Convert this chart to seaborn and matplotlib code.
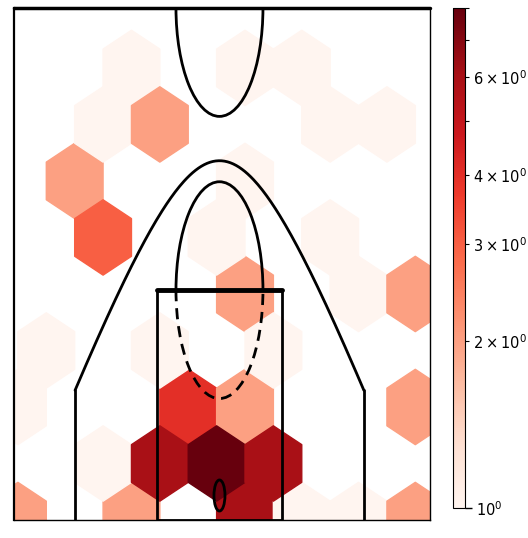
import numpy as np
import matplotlib
matplotlib.use("Agg")
import matplotlib.pyplot as plt
from matplotlib.colors import LogNorm
from matplotlib.patches import Arc, Ellipse, Rectangle
import seaborn as sns

# shot spots (court units, hoop at x=0, baseline at y=-47.5) and attempts per spot
shot_x = [-108, 31, 100,
          -143, -73, 135, 205,
          -177, 31,
          -143, -4, 135,
          31, 170, 240,
          -212, -73, 66,
          -247, -38, 31, 240,
          -143, -73, -4, 66,
          -247, -108, 31, 100, 170, 240]
shot_y = [367.5, 367.5, 367.5,
          316, 316, 316, 316,
          264, 264,
          212, 212, 212,
          160, 160, 160,
          108, 108, 108,
          56, 56, 56, 56,
          4, 4, 4, 4,
          -47.5, -47.5, -47.5, -47.5, -47.5, -47.5]
shot_n = [1, 1, 1,
          1, 2, 1, 1,
          2, 1,
          3, 1, 1,
          2, 1, 2,
          1, 1, 1,
          1, 4, 2, 2,
          1, 6, 8, 6,
          2, 2, 6, 1, 1, 2]

sns.set_style("white", {"axes.edgecolor": "black", "text.color": "black",
                        "ytick.color": "black"})
cmap = sns.color_palette("Reds", as_cmap=True)

fig = plt.figure(figsize=(5.28, 5.38), dpi=100)
ax = fig.add_axes([14 / 528, 18 / 538, 416 / 528, 512 / 538])
cax = fig.add_axes([453 / 528, 30 / 538, 12 / 528, 500 / 538])

hb = ax.hexbin(shot_x, shot_y, C=shot_n, reduce_C_function=np.sum,
               gridsize=7, cmap=cmap, norm=LogNorm(), zorder=1)

# court lines
lc = "black"
lw = 2
ax.add_patch(Ellipse((0, -25), 13.5, 28.5, fill=False, color=lc, lw=lw, zorder=3))
ax.add_patch(Rectangle((-77, -47.5), 154, 211, fill=False, color=lc, lw=lw, zorder=3))
ax.plot([-77, 77], [163.5, 163.5], color=lc, lw=3.5, zorder=3)
ax.add_patch(Arc((0, 163.5), 106.6, 199, theta1=0, theta2=180, color=lc, lw=lw, zorder=3))
ax.add_patch(Arc((0, 163.5), 106.6, 199, theta1=180, theta2=360, color=lc, lw=lw,
                 linestyle=(0, (4, 2.5)), zorder=3))
ax.add_patch(Arc((0, 422.5), 106.6, 199, theta1=180, theta2=360, color=lc, lw=lw, zorder=3))

# three point line
xs = np.linspace(-177, 177, 200)
ys = 282.3 - 190.9 * (np.sqrt(1 + (xs / 95.6) ** 2) - 1)
ax.plot(xs, ys, color=lc, lw=lw, zorder=3)
ax.plot([-177, -177], [-47.5, ys[0]], color=lc, lw=lw, zorder=3)
ax.plot([177, 177], [-47.5, ys[-1]], color=lc, lw=lw, zorder=3)

# half court line
ax.plot([-252, 258], [422.5, 422.5], color=lc, lw=2.5, zorder=4, clip_on=False)

ax.set_xlim(-251.8, 258)
ax.set_ylim(-47.5, 422.5)
ax.set_xticks([])
ax.set_yticks([])
for side in ["left", "bottom", "right"]:
    ax.spines[side].set_linewidth(1.0)
ax.spines["left"].set_linewidth(1.6)

cb = fig.colorbar(hb, cax=cax)
cb.ax.tick_params(labelsize=10.5, which="both", right=True, direction="out", pad=3,
                  colors="black")
cb.ax.tick_params(which="major", length=5, width=1)
cb.ax.tick_params(which="minor", length=3, width=0.8)
cb.outline.set_edgecolor("black")

fig.savefig("out.png", dpi=100)
